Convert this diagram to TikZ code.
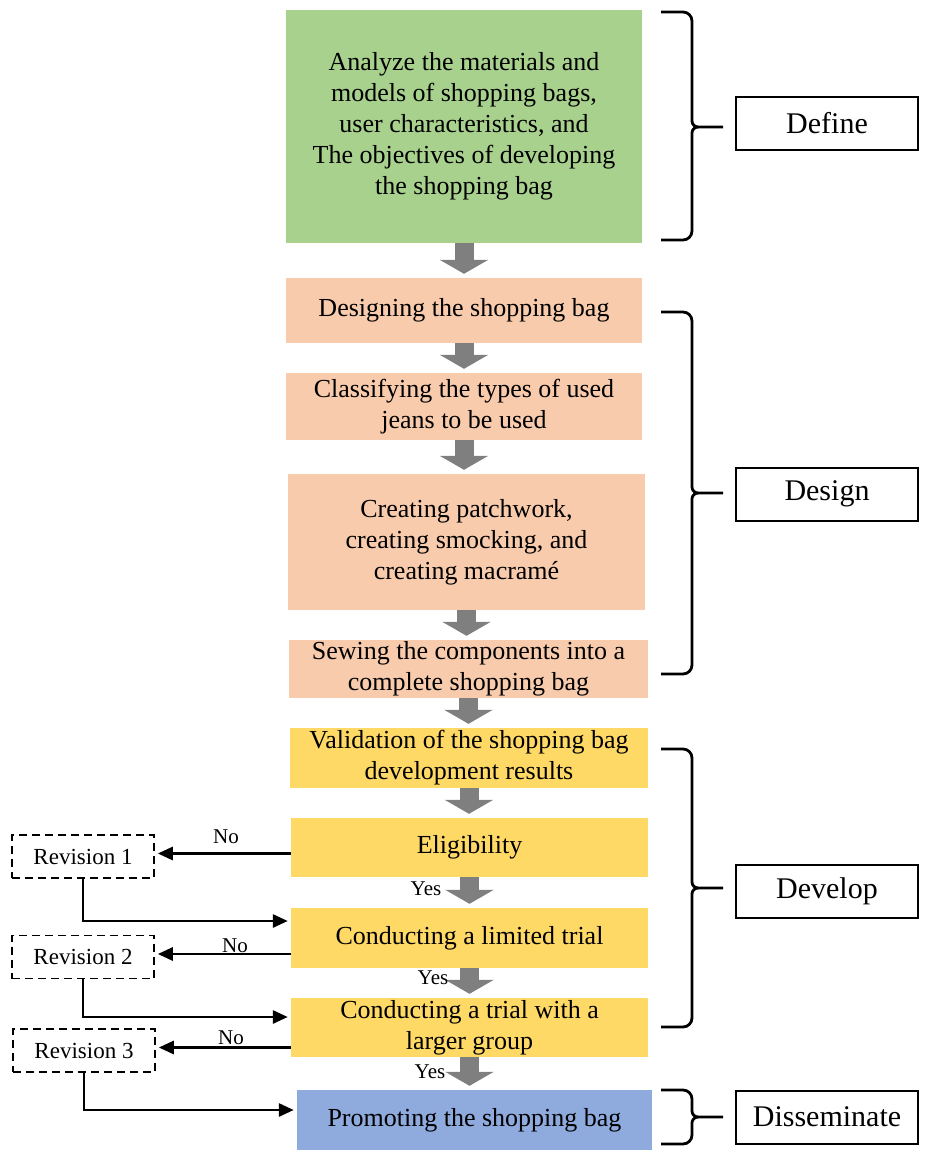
\documentclass[tikz,border=0pt]{standalone}
\usepackage{fontspec}
\setmainfont{Liberation Serif}
\usepackage{xcolor}
\usepackage{tikz}
\usetikzlibrary{arrows.meta}

\definecolor{gruen}{HTML}{A9D18E}
\definecolor{lachs}{HTML}{F8CBAD}
\definecolor{gelb}{HTML}{FFD966}
\definecolor{blau}{HTML}{8FAADC}
\definecolor{pfeilgrau}{HTML}{7F7F7F}

\tikzset{
    schritt/.style={minimum width=356pt, inner sep=0pt, align=center, font=\fontsize{26}{31}\selectfont},
    phase/.style={draw, line width=2pt, minimum width=182pt, minimum height=53pt, font=\fontsize{30}{36}\selectfont},
    revision/.style={draw, line width=1.6pt, dash pattern=on 8pt off 5pt, minimum width=142pt, minimum height=43pt, font=\fontsize{23}{28}\selectfont},
    klein/.style={font=\fontsize{21}{25}\selectfont},
    blockpfeil/.style={line width=19pt, color=pfeilgrau, -{Triangle[width=48pt, length=14pt]}, shorten >=4pt},
    nein/.style={line width=2.8pt, -{Triangle[width=13pt, length=15pt]}, shorten >=3pt},
    klammerlinie/.style={line width=2.8pt}
}

% Klammer: oben, Mitte, unten.
\newcommand{\klammer}[3]{
    \draw[klammerlinie] (661,#1) -- (683,#1) to[out=0, in=90] (692,{#1+9}) -- (692,{#2-6}) to[out=270, in=180] (698,#2) -- (723,#2);
    \draw[klammerlinie] (698,#2) to[out=180, in=90] (692,{#2+6}) -- (692,{#3-9}) to[out=270, in=0] (683,#3) -- (661,#3);
}

\begin{document}
\begin{tikzpicture}[x=1pt, y=-1pt]
    \useasboundingbox (0,0) rectangle (930,1158);

    % Kaesten.
    \node[schritt, fill=gruen, minimum height=233pt] (anlz) at (464,126.5) {Analyze the materials and\\ models of shopping bags,\\ user characteristics, and\\ The objectives of developing\\ the shopping bag\rule[-6pt]{0pt}{6pt}};
    \node[schritt, fill=lachs, minimum height=65pt] (dsgn) at (464,310.5) {Designing the shopping bag};
    \node[schritt, fill=lachs, minimum height=67pt] (clsf) at (464,406.5) {Classifying the types of used\\ jeans to be used};
    \node[schritt, fill=lachs, minimum height=136pt, minimum width=357pt] (crte) at (466.5,542) {Creating patchwork,\\ creating smocking, and\\ creating macramé};
    \node[schritt, fill=lachs, minimum height=58pt, minimum width=359pt] (sew) at (468.5,669) {Sewing the components into a\\ complete shopping bag};
    \node[schritt, fill=gelb, minimum height=60pt, minimum width=358pt] (vald) at (469,758) {Validation of the shopping bag\\ development results};
    \node[schritt, fill=gelb, minimum height=59pt, minimum width=357pt] (elig) at (469.5,847.5) {Eligibility};
    \node[schritt, fill=gelb, minimum height=60pt, minimum width=357pt] (ltrl) at (469.5,938) {Conducting a limited trial};
    \node[schritt, fill=gelb, minimum height=59pt, minimum width=357pt] (lgrp) at (469.5,1027.5) {Conducting a trial with a\\ larger group};
    \node[schritt, fill=blau, minimum height=60pt, minimum width=355pt] (prom) at (474.5,1120) {Promoting the shopping bag};

    \foreach \a/\b in {anlz/dsgn, dsgn/clsf, clsf/crte, crte/sew, sew/vald, vald/elig, elig/ltrl, ltrl/lgrp, lgrp/prom}
    {
        \draw[blockpfeil] (\a.south) -- (\a.south |- \b.north);
    }

    % Phasen.
    \node[phase] (define) at (827,123.5) {Define};
    \node[phase] (design) at (827,494) {Design};
    \node[phase] (develop) at (827,891.5) {Develop};
    \node[phase] (dissem) at (827,1117) {Disseminate};

    \klammer{12}{127}{240}
    \klammer{312}{493}{674}
    \klammer{749}{888}{1027}
    \klammer{1090}{1117}{1144}

    % Revisionen.
    \node[revision] (rev1) at (83,856.5) {Revision 1};
    \node[revision] (rev2) at (83,957) {Revision 2};
    \node[revision] (rev3) at (84,1050.5) {Revision 3};

    \draw[nein] ([yshift=3pt]rev1.east -| elig.west) -- ([yshift=3pt]rev1.east);
    \draw[nein] ([yshift=3pt]rev2.east -| ltrl.west) -- ([yshift=3pt]rev2.east);
    \draw[nein] ([yshift=3pt]rev3.east -| lgrp.west) -- ([yshift=3pt]rev3.east);

    \draw[nein] (rev1.south) |- ([yshift=17pt]ltrl.west);
    \draw[nein] (rev2.south) |- ([yshift=10.5pt]lgrp.west);
    \draw[nein] (rev3.south) |- ([yshift=10pt]prom.west);

    % Beschriftung.
    \node[klein] (nein1) at (226,837) {No};
    \node[klein] (nein2) at (235,946) {No};
    \node[klein] (nein3) at (231,1038) {No};

    \node[klein] (ja1) at (426,889) {Yes};
    \node[klein] (ja2) at (433,978) {Yes};
    \node[klein] (ja3) at (430,1072) {Yes};
\end{tikzpicture}
\end{document}
